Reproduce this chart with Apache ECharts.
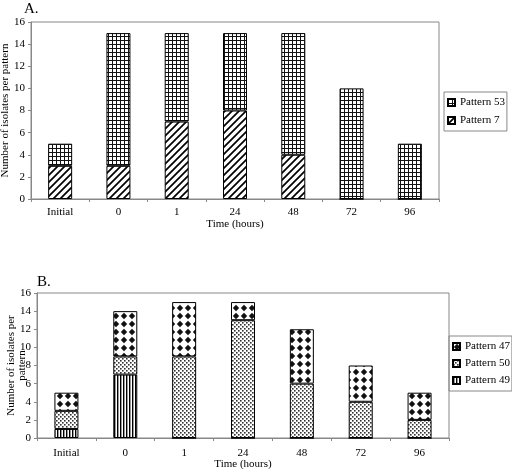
<!DOCTYPE html>
<html><head><meta charset="utf-8">
<script src="https://cdn.jsdelivr.net/npm/echarts@6/dist/echarts.min.js"></script>
<style>html,body{margin:0;padding:0;background:#fff}#c{width:512px;height:469px}</style>
</head><body><div id="c"></div>
<script>
const categories = ['Initial','0','1','24','48','72','96'];
const yTicksMax = 16;
// Panel A
const pattern7  = [3, 3, 7, 8, 4, 0, 0];
const pattern53 = [2, 12, 8, 7, 11, 10, 5];
// Panel B
const pattern49 = [1, 7, 0, 0, 0, 0, 0];
const pattern50 = [2, 2, 9, 13, 6, 4, 2];
const pattern47 = [2, 5, 6, 2, 6, 4, 3];

function tile(w, h, draw) {
  const c = document.createElement('canvas');
  c.width = w; c.height = h;
  const g = c.getContext('2d');
  g.fillStyle = '#fff'; g.fillRect(0, 0, w, h);
  draw(g, w, h);
  return { image: c, repeat: 'repeat' };
}
const patGrid = tile(4, 4, (g) => { g.fillStyle = '#111'; g.fillRect(0, 0, 4, 1); g.fillRect(0, 0, 1, 4); });
const patDiag = tile(7, 7, (g) => {
  g.strokeStyle = '#000'; g.lineWidth = 1.7;
  g.beginPath(); g.moveTo(-1, 8); g.lineTo(8, -1);
  g.moveTo(-4.5, 4.5); g.lineTo(4.5, -4.5);
  g.moveTo(2.5, 11.5); g.lineTo(11.5, 2.5); g.stroke();
});
const patVert = tile(3, 3, (g) => { g.fillStyle = '#000'; g.fillRect(0, 0, 1.4, 3); });
const patDots = tile(4, 4, (g) => { g.fillStyle = '#333'; g.fillRect(0, 0, 1.6, 1.6); g.fillRect(2, 2, 1.6, 1.6); });
const patDiam = tile(8, 8, (g) => {
  g.fillStyle = '#111';
  g.beginPath(); g.moveTo(4, 0.8); g.lineTo(7.2, 4); g.lineTo(4, 7.2); g.lineTo(0.8, 4); g.closePath(); g.fill();
});

const font = 'Liberation Serif';
function xAx(gi) {
  return {
    type: 'category', gridIndex: gi, data: categories,
    axisLine: { lineStyle: { color: '#888' } },
    axisTick: { show: true, length: 3, lineStyle: { color: '#888' } },
    axisLabel: { color: '#000', fontFamily: font, fontSize: 11, margin: gi === 0 ? 8 : 10 },
    name: 'Time (hours)', nameLocation: 'middle', nameGap: gi === 0 ? 20 : 21, nameMoveOverlap: false,
    nameTextStyle: { color: '#000', fontFamily: font, fontSize: 11 }
  };
}
function yAx(gi, name, gap) {
  return {
    type: 'value', gridIndex: gi, min: 0, max: yTicksMax, interval: 2,
    axisLine: { show: true, lineStyle: { color: '#888' } },
    axisTick: { show: true, length: 3, lineStyle: { color: '#888' } },
    splitLine: { show: false },
    axisLabel: { color: '#000', fontFamily: font, fontSize: 11, margin: 6 },
    name: name, nameLocation: 'middle', nameRotate: 90, nameGap: gap, nameMoveOverlap: false,
    nameTextStyle: { color: '#000', fontFamily: font, fontSize: 11, lineHeight: 11 }
  };
}
function bar(name, data, gi, stack, pat) {
  return {
    type: 'bar', name, data, xAxisIndex: gi, yAxisIndex: gi, stack, barWidth: 24,
    itemStyle: { color: pat, borderColor: '#000', borderWidth: 1 },
    emphasis: { disabled: true }
  };
}
const chart = echarts.init(document.getElementById('c'), null, { renderer: 'canvas' });
chart.setOption({
  animation: false,
  backgroundColor: '#fff',
  title: [
    { text: 'A.', left: 19, top: -3, textStyle: { fontFamily: font, fontSize: 15, fontWeight: 'normal', color: '#000' } },
    { text: 'B.', left: 32, top: 270, textStyle: { fontFamily: font, fontSize: 15, fontWeight: 'normal', color: '#000' } }
  ],
  grid: [
    { left: 31, right: 73, top: 22, bottom: 270, show: true, borderColor: '#888', borderWidth: 1, containLabel: false, outerBoundsMode: 'none' },
    { left: 37, right: 63, top: 293, bottom: 31, show: true, borderColor: '#888', borderWidth: 1, containLabel: false, outerBoundsMode: 'none' }
  ],
  xAxis: [xAx(0), xAx(1)],
  yAxis: [yAx(0, 'Number of isolates per pattern', 20), yAx(1, 'Number of isolates per\npattern', 9)],
  legend: [
    { data: ['Pattern 53', 'Pattern 7'], orient: 'vertical', left: 444, top: 92,
      borderColor: '#888', borderWidth: 1, padding: [5, 2, 5, 3], itemWidth: 7, itemHeight: 7, itemGap: 7,
      icon: 'rect', textStyle: { fontFamily: font, fontSize: 11, color: '#000' } },
    { data: ['Pattern 47', 'Pattern 50', 'Pattern 49'], orient: 'vertical', left: 449, top: 336,
      borderColor: '#888', borderWidth: 1, padding: [5, 2, 5, 3], itemWidth: 7, itemHeight: 7, itemGap: 6,
      icon: 'rect', textStyle: { fontFamily: font, fontSize: 11, color: '#000' } }
  ],
  series: [
    bar('Pattern 7', pattern7, 0, 'a', patDiag),
    bar('Pattern 53', pattern53, 0, 'a', patGrid),
    bar('Pattern 49', pattern49, 1, 'b', patVert),
    bar('Pattern 50', pattern50, 1, 'b', patDots),
    bar('Pattern 47', pattern47, 1, 'b', patDiam)
  ]
});
</script></body></html>
